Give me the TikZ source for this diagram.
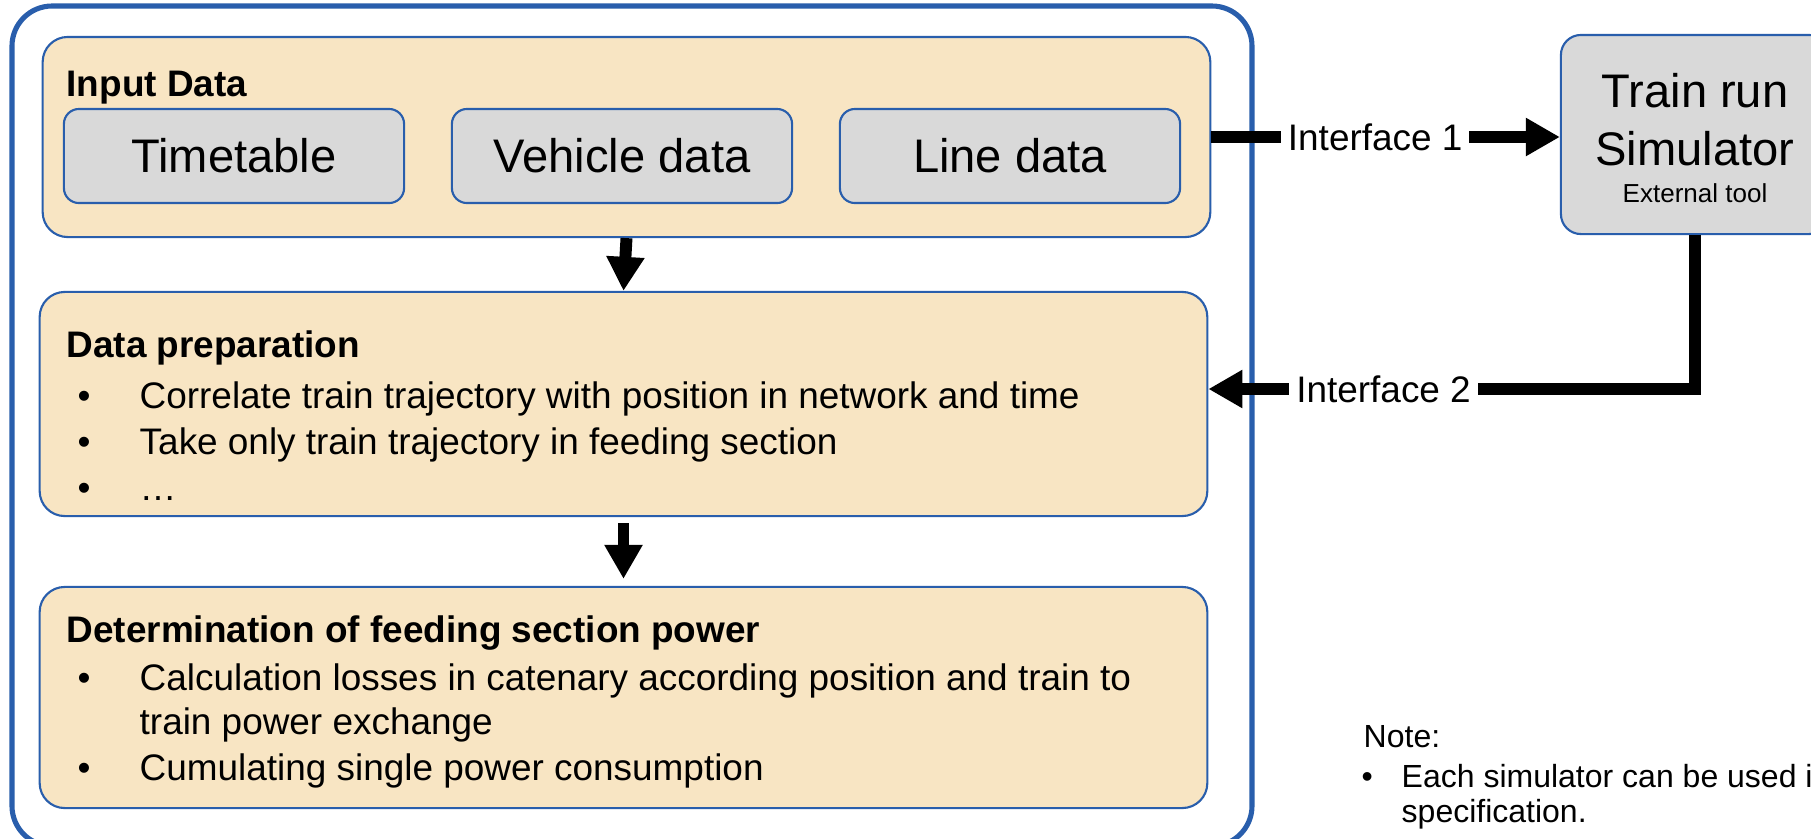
\documentclass[tikz,border=0pt]{standalone}
\usepackage{fontspec}
\setmainfont{Liberation Sans}
\usetikzlibrary{arrows.meta}
\definecolor{frameblue}{RGB}{41,94,172}
\definecolor{stagebeige}{RGB}{248,229,195}
\definecolor{boxgray}{RGB}{217,217,217}
\newcommand{\bodyfont}{\fontsize{10.5}{12.6}\selectfont}
\newcommand{\boxfont}{\fontsize{13.4}{16}\selectfont}
\newcommand{\toolfont}{\fontsize{7.4}{9}\selectfont}
\newcommand{\notefont}{\fontsize{9.1}{11}\selectfont}
\newcommand{\bul}{\makebox[0.62cm][l]{\textbullet}}
\newcommand{\notebul}{\makebox[0.40cm][l]{\textbullet}}
\tikzset{
every picture/.style={x=0.01cm, y=-0.01cm},
%%%%%%%%%%  Node styles
frame/.style={draw=frameblue, line width=1.45pt, rounded corners=0.4cm},
stage/.style={draw=frameblue, line width=0.6pt, fill=stagebeige,
              rounded corners=0.25cm, inner sep=0, minimum width=11.67cm},
datum/.style={draw=frameblue, line width=0.6pt, fill=boxgray,
              rounded corners=0.15cm, minimum width=3.4cm,
              minimum height=0.94cm, font=\boxfont},
heading/.style={anchor=base west, inner sep=0, font=\bodyfont\bfseries},
bulletline/.style={anchor=base west, inner sep=0, font=\bodyfont},
simtext/.style={anchor=base, inner sep=0, font=\boxfont},
notetext/.style={anchor=base west, inner sep=0, font=\notefont},
%%%%%%% Connector styles
flow/.style={line width=3.4pt,
             -{Triangle[width=0.36cm,length=0.34cm]}},
iface/.style={fill=white, inner sep=2pt, font=\bodyfont}
}

\begin{document}
\begin{tikzpicture}
\useasboundingbox (0,0) rectangle (1811,839);
\clip (0,0) rectangle (1811,839);
\fill[white] (0,0) rectangle (1811,839);
\draw[frame] (12,6) rectangle (1252,846);
%%%% input data
\node[stage, minimum height=2.0cm] (input) at (626.5,137) {};
\node[heading] (inputhead) at (66,96) {Input Data};
\node[datum] (timetable) at (234,156) {Timetable};
\node[datum] (vehicle) at (622,156) {Vehicle data};
\node[datum] (linedata) at (1010,156) {Line data};
%%%% data preparation
\node[stage, minimum height=2.24cm] (prep) at (623.5,404) {};
\node[heading] (prephead) at (66,357) {Data preparation};
\node[bulletline] (prep1) at (77,408) {\bul Correlate train trajectory with position in network and time};
\node[bulletline] (prep2) at (77,454) {\bul Take only train trajectory in feeding section};
\node[bulletline] (prep3) at (77,500) {\bul \dots};
%%%% feeding section power
\node[stage, minimum height=2.21cm] (det) at (623.5,697.5) {};
\node[heading] (dethead) at (66,642) {Determination of feeding section power};
\node[bulletline] (det1) at (77,690) {\bul Calculation losses in catenary according position and train to};
\node[bulletline] (det2) at (139,734) {train power exchange};
\node[bulletline] (det3) at (77,780) {\bul Cumulating single power consumption};
%%%% simulator
\node[datum, rounded corners=0.2cm, minimum width=2.68cm,
      minimum height=1.99cm] (sim) at (1695,134.5) {};
\node[simtext] (simA) at (1695,107) {Train run};
\node[simtext] (simB) at (1695,165) {Simulator};
\node[simtext, font=\toolfont] (simC) at (1695,202) {External tool};
%%%% note
\node[notetext] (note) at (1363,747) {Note:};
\node[notetext] (note1) at (1361,787) {\notebul Each simulator can be used if it};
\node[notetext] (note2) at (1401,822) {specification.};
%%%% connectors
\draw[flow] (input.south) -- (prep.north);
\draw[flow, shorten <=0.06cm, shorten >=0.07cm] (prep.south) -- (det.north);
\draw[flow] (input.east) -- (input.east -| sim.west)
      node[iface, pos=0.47] (if1) {Interface 1};
\coordinate (i2end) at (prep.east |- 0,389);
\draw[flow] (sim.south) |- (i2end)
      node[iface, pos=0.82] (if2) {Interface 2};
\end{tikzpicture}
\end{document}
